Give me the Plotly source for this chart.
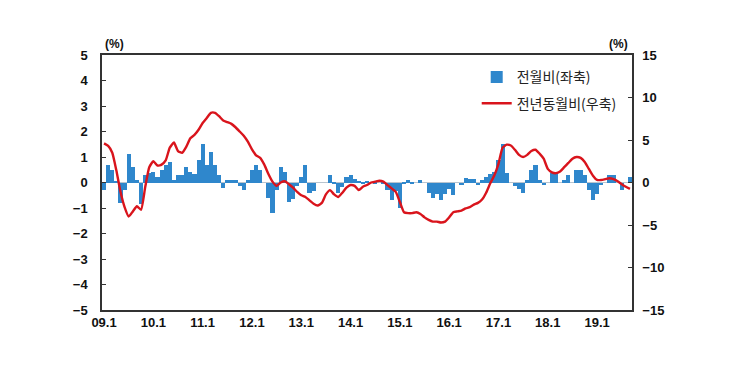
import plotly.graph_objects as go

# Month-over-month change (%), left axis, Jan 2009 .. Sep 2019
mom_2009 = [-0.3, 0.7, 0.5, 0.05, -0.8, -0.3, 1.1, 0.6, 0.1, -0.85, 0.3, 0.38]
mom_2010 = [0.4, 0.2, 0.5, 0.7, 0.8, 0.08, 0.3, 0.3, 0.6, 0.42, 0.33, 0.9]
mom_2011 = [1.5, 0.7, 1.2, 0.68, 0.3, -0.2, 0.1, 0.1, 0.1, -0.12, -0.3, 0.08]
mom_2012 = [0.5, 0.7, 0.5, 0.0, -0.6, -1.2, -0.3, 0.6, 0.4, -0.75, -0.65, -0.12]
mom_2013 = [0.22, 0.7, -0.4, -0.34, 0.0, 0.0, 0.0, 0.3, -0.07, -0.4, -0.17, 0.2]
mom_2014 = [0.3, 0.12, 0.05, -0.05, 0.02, 0.0, -0.03, 0.0, -0.05, -0.3, -0.67, -0.34]
mom_2015 = [-1.0, -0.05, 0.1, -0.07, 0.0, 0.08, 0.0, -0.4, -0.6, -0.45, -0.68, -0.45]
mom_2016 = [-0.25, -0.5, 0.0, -0.1, 0.18, 0.12, 0.15, -0.1, 0.1, 0.2, 0.32, 0.4]
mom_2017 = [0.9, 1.5, 0.38, 0.0, -0.14, -0.27, -0.42, 0.1, 0.5, 0.7, 0.08, -0.1]
mom_2018 = [0.0, 0.38, 0.38, 0.0, 0.08, 0.3, 0.0, 0.48, 0.48, 0.3, -0.28, -0.67]
mom_2019 = [-0.47, -0.08, 0.0, 0.3, 0.3, 0.0, -0.28, 0.0, 0.2]

# Year-over-year change (%), right axis
yoy_2009 = [4.6, 4.3, 3.5, 1.4, -1.1, -2.9, -4.0, -3.4, -2.8, -3.2, -0.6, 1.8]
yoy_2010 = [2.5, 2.0, 2.1, 2.6, 4.1, 4.7, 3.7, 3.5, 4.2, 5.2, 5.6, 6.2]
yoy_2011 = [7.0, 7.6, 8.2, 8.2, 7.8, 7.3, 7.1, 6.9, 6.5, 6.0, 5.5, 4.8]
yoy_2012 = [3.9, 3.2, 2.9, 2.1, 1.0, 0.1, -0.4, 0.0, 0.15, -0.2, -0.6, -1.1]
yoy_2013 = [-1.5, -1.7, -2.1, -2.5, -2.7, -2.4, -1.4, -0.9, -1.4, -1.7, -1.2, -0.6]
yoy_2014 = [-0.3, -0.4, -0.9, -0.5, -0.3, 0.0, 0.1, 0.2, 0.1, -0.3, -0.7, -1.1]
yoy_2015 = [-2.3, -3.5, -3.6, -3.6, -3.5, -3.7, -4.1, -4.4, -4.6, -4.6, -4.7, -4.6]
yoy_2016 = [-4.1, -3.5, -3.4, -3.3, -3.05, -2.9, -2.6, -2.4, -2.0, -1.2, -0.1, 0.85]
yoy_2017 = [2.2, 4.1, 4.45, 4.35, 3.85, 3.25, 3.0, 3.25, 3.7, 3.85, 3.4, 2.8]
yoy_2018 = [1.6, 1.2, 1.1, 1.3, 1.8, 2.3, 2.8, 3.0, 2.9, 2.4, 1.6, 0.8]
yoy_2019 = [0.3, 0.3, 0.4, 0.5, 0.4, 0.15, -0.2, -0.5, -0.75]

tick_labels = ["09.1", "10.1", "11.1", "12.1", "13.1", "14.1",
               "15.1", "16.1", "17.1", "18.1", "19.1"]
series_names = ["전월비(좌축)", "전년동월비(우축)"]

mom = (mom_2009 + mom_2010 + mom_2011 + mom_2012 + mom_2013 + mom_2014 +
       mom_2015 + mom_2016 + mom_2017 + mom_2018 + mom_2019)
yoy = (yoy_2009 + yoy_2010 + yoy_2011 + yoy_2012 + yoy_2013 + yoy_2014 +
       yoy_2015 + yoy_2016 + yoy_2017 + yoy_2018 + yoy_2019)
n = len(mom)
x = [i + 0.5 for i in range(n)]
tickvals = [12 * k + 0.5 for k in range(len(tick_labels))]

bold = dict(family="Liberation Sans", size=13, color="#111", weight="bold")

fig = go.Figure()
fig.add_trace(go.Bar(x=x, y=mom, name=series_names[0], legendgroup="a",
                     marker=dict(color="#2f87cc", line=dict(width=0)), yaxis="y"))
fig.add_trace(go.Scatter(x=x, y=yoy, name=series_names[1], mode="lines", legendgroup="b",
                         line=dict(color="#d9141c", width=2.4, shape="spline", smoothing=0.5),
                         yaxis="y2"))

fig.update_layout(
    width=747, height=373,
    margin=dict(l=94, r=123, t=47, b=71),
    paper_bgcolor="white", plot_bgcolor="white",
    bargap=0.0,
    showlegend=True,
    legend=dict(x=0.707, y=0.975, xanchor="left", yanchor="top",
                bgcolor="rgba(0,0,0,0)", font=dict(family="Noto Sans CJK KR", size=14, color="#222"),
                tracegroupgap=5, itemwidth=30),
    xaxis=dict(range=[0, n], tickvals=tickvals, ticktext=tick_labels, ticks="",
               showline=True, linecolor="#333", linewidth=1.5, mirror=True,
               showgrid=False, zeroline=False, tickfont=bold),
    yaxis=dict(range=[-5, 5], dtick=1, ticks="inside", ticklen=4, tickcolor="#333",
               showline=True, linecolor="#333", linewidth=1.5,
               showgrid=False, zeroline=True, zerolinecolor="#b8c4cf", zerolinewidth=1,
               tickfont=bold, ticklabelstandoff=10),
    yaxis2=dict(range=[-15, 15], dtick=5, ticks="inside", ticklen=4, tickcolor="#333",
                overlaying="y", side="right",
                showline=True, linecolor="#333", linewidth=1.5,
                showgrid=False, zeroline=False, tickfont=bold, ticklabelstandoff=6),
    annotations=[
        dict(text="(%)", xref="paper", yref="paper", x=0.023, y=1.0, yshift=2,
             xanchor="center", yanchor="bottom", showarrow=False,
             font=dict(family="Liberation Sans", size=12, color="#111", weight="bold")),
        dict(text="(%)", xref="paper", yref="paper", x=0.975, y=1.0, yshift=2,
             xanchor="center", yanchor="bottom", showarrow=False,
             font=dict(family="Liberation Sans", size=12, color="#111", weight="bold")),
    ],
)

fig.write_html("out.html")
